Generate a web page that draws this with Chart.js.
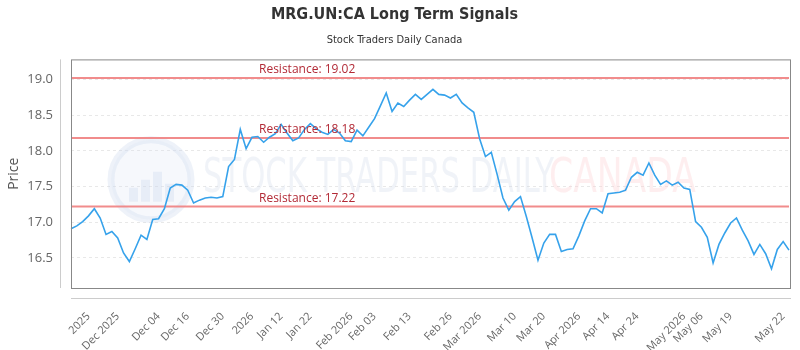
<!DOCTYPE html>
<html>
<head>
<meta charset="utf-8">
<script src="https://cdn.jsdelivr.net/npm/chart.js@4.4.1/dist/chart.umd.min.js"></script>
<style>
  html, body { margin: 0; padding: 0; background: #fff; }
  #wrap { width: 800px; height: 350px; }
</style>
</head>
<body>
<div id="wrap"><canvas id="myChart"></canvas></div>
<script>
// closing prices, one per trading session
const prices = [
  16.91, 16.95, 17.01, 17.09, 17.19, 17.06, 16.83, 16.87, 16.78, 16.57,
  16.45, 16.63, 16.82, 16.76, 17.04, 17.05, 17.19, 17.48, 17.53, 17.52,
  17.45, 17.27, 17.31, 17.34, 17.35, 17.34, 17.36, 17.78, 17.88, 18.30,
  18.03, 18.19, 18.20, 18.12, 18.19, 18.24, 18.37, 18.25, 18.14, 18.18,
  18.30, 18.38, 18.31, 18.26, 18.23, 18.30, 18.25, 18.14, 18.13, 18.29,
  18.21, 18.33, 18.45, 18.63, 18.81, 18.55, 18.67, 18.62, 18.71, 18.79,
  18.72, 18.79, 18.86, 18.79, 18.78, 18.74, 18.79, 18.67, 18.60, 18.54,
  18.17, 17.92, 17.98, 17.67, 17.34, 17.17, 17.29, 17.36, 17.08, 16.78,
  16.47, 16.71, 16.83, 16.83, 16.59, 16.62, 16.63, 16.81, 17.02, 17.19,
  17.19, 17.13, 17.40, 17.41, 17.42, 17.45, 17.63, 17.70, 17.66, 17.83,
  17.66, 17.53, 17.58, 17.52, 17.56, 17.48, 17.46, 17.01, 16.93, 16.79,
  16.43, 16.69, 16.85, 16.99, 17.06, 16.89, 16.74, 16.55, 16.69, 16.56,
  16.35, 16.62, 16.73, 16.61
];

const tickLabels = ['2025', 'Dec 2025', 'Dec 04', 'Dec 16', 'Dec 30', '2026', 'Jan 12', 'Jan 22',
  'Feb 2026', 'Feb 03', 'Feb 13', 'Feb 26', 'Mar 2026', 'Mar 10', 'Mar 20', 'Apr 2026',
  'Apr 14', 'Apr 24', 'May 2026', 'May 06', 'May 19', 'May 22'];
const tickIndex = [3, 8, 15, 20, 26, 31, 36, 41, 48, 52, 58, 65, 70, 76, 81, 87, 92, 97, 105, 108, 113, 122];

const resistance = [19.02, 18.18, 17.22];

const labels = prices.map(() => '');
tickIndex.forEach((i, k) => { labels[i] = tickLabels[k]; });

const lineColor = 'rgba(240, 128, 128, 0.9)';

const datasets = [{
  label: 'Price',
  data: prices,
  borderColor: '#36a2eb',
  borderWidth: 1.6,
  pointRadius: 0,
  tension: 0,
  order: 0
}];
resistance.forEach(r => {
  datasets.push({
    label: 'Resistance',
    data: prices.map(() => r),
    borderColor: lineColor,
    borderWidth: 2,
    pointRadius: 0,
    order: 1
  });
});

// faint logo + "STOCK TRADERS DAILY CANADA" behind the lines
const watermark = {
  id: 'watermark',
  beforeDatasetsDraw(chart) {
    const { ctx, chartArea: a } = chart;
    const cy = (a.top + a.bottom) / 2 + 6;
    ctx.save();
    ctx.strokeStyle = 'rgba(200, 212, 235, 0.3)';
    ctx.fillStyle = 'rgba(215, 225, 240, 0.22)';
    ctx.lineWidth = 7;
    ctx.beginPath();
    ctx.arc(a.left + 80, cy, 40, 0, Math.PI * 2);
    ctx.stroke();
    ctx.fill();
    ctx.fillStyle = 'rgba(200, 212, 235, 0.3)';
    [[-22, 14], [-10, 22], [2, 30], [14, 18]].forEach(([dx, h]) => {
      ctx.fillRect(a.left + 80 + dx, cy + 22 - h, 9, h);
    });

    ctx.font = "48px 'DejaVu Sans Condensed', sans-serif";
    ctx.textBaseline = 'middle';
    ctx.save();
    ctx.translate(a.left + 132, cy);
    ctx.scale(0.71, 1);
    ctx.fillStyle = 'rgba(205, 215, 232, 0.3)';
    ctx.fillText('STOCK TRADERS DAILY', 0, 0);
    ctx.restore();
    ctx.translate(a.left + 478, cy);
    ctx.scale(0.8, 1);
    ctx.fillStyle = 'rgba(252, 205, 210, 0.35)';
    ctx.fillText('CANADA', 0, 0);
    ctx.restore();
  }
};

// plot frame, offset axis lines and resistance captions
const frame = {
  id: 'frame',
  afterDatasetsDraw(chart) {
    const { ctx, chartArea: a, scales } = chart;
    ctx.save();
    ctx.strokeStyle = '#888';
    ctx.lineWidth = 1;
    ctx.strokeRect(a.left + 0.5, a.top + 0.5, a.right - a.left + 1, a.bottom - a.top);
    ctx.strokeStyle = '#ccc';
    ctx.beginPath();
    ctx.moveTo(a.left - 10.5, a.top);
    ctx.lineTo(a.left - 10.5, a.bottom);
    ctx.moveTo(a.left, a.bottom + 10.5);
    ctx.lineTo(a.right + 2, a.bottom + 10.5);
    ctx.stroke();

    ctx.font = "12px 'Open Sans', sans-serif";
    ctx.fillStyle = '#b22a36';
    ctx.textBaseline = 'bottom';
    resistance.forEach(r => {
      const y = scales.y.getPixelForValue(r);
      ctx.fillText('Resistance: ' + r.toFixed(2), a.left + 188, y - 2);
    });
    ctx.restore();
  }
};

new Chart(document.getElementById('myChart'), {
  type: 'line',
  data: { labels: labels, datasets: datasets },
  options: {
    responsive: true,
    maintainAspectRatio: false,
    animation: false,
    layout: { padding: { left: 0, right: 11, top: 0, bottom: 0 } },
    plugins: {
      legend: { display: false },
      tooltip: { enabled: false },
      title: {
        display: true,
        text: 'MRG.UN:CA Long Term Signals',
        color: '#333',
        font: { family: "'DejaVu Sans Condensed', sans-serif", size: 16, weight: 'bold' },
        padding: { top: 5, bottom: 9 }
      },
      subtitle: {
        display: true,
        text: 'Stock Traders Daily Canada',
        color: '#333',
        font: { family: "'DejaVu Sans Condensed', sans-serif", size: 11 },
        padding: { top: 0, bottom: 13 }
      }
    },
    scales: {
      x: {
        grid: { display: false },
        border: { display: false },
        ticks: {
          autoSkip: false,
          maxRotation: 45,
          minRotation: 45,
          padding: 14,
          color: '#666',
          font: { family: "'Open Sans', sans-serif", size: 11 }
        },
        afterFit(scale) {
          scale.height = 62;
          scale.paddingRight = 0;
          scale.paddingLeft = 0;
        }
      },
      y: {
        min: 16.08,
        max: 19.28,
        grid: { color: '#e8e8e8', drawTicks: false },
        border: { display: false, dash: [3, 3] },
        ticks: {
          stepSize: 0.5,
          padding: 18,
          color: '#666',
          font: { family: "'Open Sans', sans-serif", size: 13 },
          callback: v => v.toFixed(1)
        },
        afterBuildTicks(scale) {
          scale.ticks = scale.ticks.filter(t => Math.abs(t.value * 2 - Math.round(t.value * 2)) < 1e-6);
        },
        title: {
          display: true,
          text: 'Price',
          color: '#555',
          font: { family: "'Open Sans', sans-serif", size: 14 },
          padding: 6
        },
        afterFit(scale) { scale.width = 71; }
      }
    }
  },
  plugins: [watermark, frame]
});
</script>
</body>
</html>
